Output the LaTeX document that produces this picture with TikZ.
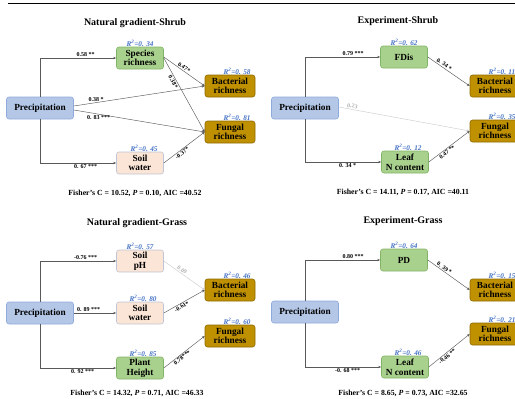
\documentclass[tikz,border=0pt]{standalone}
\usepackage{fontspec}
\setmainfont{Liberation Serif}
\usetikzlibrary{arrows.meta}
\definecolor{precfill}{HTML}{B4C7E7}
\definecolor{precline}{HTML}{8FAADC}
\definecolor{grnfill}{HTML}{A9D18E}
\definecolor{grnline}{HTML}{82B366}
\definecolor{pchfill}{HTML}{FBE5D6}
\definecolor{pchline}{HTML}{BFC4D6}
\definecolor{gldfill}{HTML}{BF9000}
\definecolor{gldline}{HTML}{8F6B00}
\definecolor{rblue}{HTML}{4472C4}
\definecolor{lgray}{HTML}{595959}
\tikzset{
  box/.style={draw, rounded corners=2.5pt, minimum width=47pt, minimum height=22pt,
    align=center, inner sep=0.5pt, line width=0.6pt,
    font=\bfseries\fontsize{9.3}{9.6}\selectfont},
  precbox/.style={box, fill=precfill, draw=precline, minimum width=67pt},
  greenbox/.style={box, fill=grnfill, draw=grnline},
  peachbox/.style={box, fill=pchfill, draw=pchline},
  goldbox/.style={box, fill=gldfill, draw=gldline, minimum width=50pt},
  conn/.style={-{Stealth[length=3pt,width=2.4pt]}, draw=lgray, line width=0.45pt},
  weakconn/.style={conn, draw=gray!40},
  coef/.style={font=\bfseries\fontsize{6}{6}\selectfont, inner sep=1pt},
  weakcoef/.style={coef, text=gray!60},
  rsq/.style={font=\bfseries\itshape\fontsize{7.2}{7.2}\selectfont, text=rblue,
    anchor=south, inner sep=0.5pt},
  ttl/.style={font=\bfseries\fontsize{10}{10}\selectfont},
  fish/.style={font=\bfseries\fontsize{7.8}{7.8}\selectfont}
}
\newcommand{\rtwo}[1]{R\textsuperscript{2}=#1}
\begin{document}
\begin{tikzpicture}[x=1pt,y=-1pt]
\useasboundingbox (0,0) rectangle (515,399);
\clip (0,0) rectangle (515,399);
\draw[line width=0.8pt] (8,3) -- (515,3);

\node[ttl] (t1) at (135,23) {Natural gradient-Shrub};
\node[precbox] (p1prec) at (40,108) {Precipitation};
\node[greenbox] (p1sp) at (140,58) {Species\\richness};
\node[peachbox] (p1sw) at (140,163) {Soil\\water};
\node[goldbox] (p1bac) at (230,86) {Bacterial\\richness};
\node[goldbox] (p1fun) at (230,132) {Fungal\\richness};
\node[rsq] at ([yshift=-1pt]p1sp.north) {\rtwo{0. 34}};
\node[rsq] at ([xshift=7pt,yshift=-1pt]p1bac.north) {\rtwo{0. 58}};
\node[rsq] at ([xshift=7pt,yshift=-1pt]p1fun.north) {\rtwo{0. 81}};
\node[rsq] at ([xshift=4pt,yshift=-1pt]p1sw.north) {\rtwo{0. 45}};
\draw[conn] (p1prec.north) |- (p1sp.west) node[coef,pos=0.8,above] {0.58 **};
\draw[conn] (p1prec.south) |- (p1sw.west) node[coef,pos=0.8,below] {0. 67 ***};
\draw[conn] ([yshift=2pt]p1prec.east) -- (p1bac.west) node[coef,pos=0.17,above] {0.38 *};
\draw[conn] ([yshift=-2pt]p1prec.east) -- (p1fun.west) node[coef,pos=0.19,below] {0. 83 ***};
\draw[conn] ([yshift=1pt]p1sp.east) -- (p1bac.west) node[coef,pos=0.45,above,sloped] {0.47*};
\draw[conn] (p1sp.east) -- (p1fun.west) node[coef,pos=0.3,below,sloped] {0.38*};
\draw[conn] (p1sw.east) -- (p1fun.west) node[coef,pos=0.4,below,sloped] {-0.37*};
\node[fish] (f1) at (135,193) {Fisher’s C = 10.52, \textit{P} = 0.10, AIC =40.52};

\node[ttl] (t2) at (398,21) {Experiment-Shrub};
\node[precbox] (p2prec) at (305,108) {Precipitation};
\node[greenbox] (p2fd) at (404,57) {FDis};
\node[greenbox] (p2leaf) at (405,162) {Leaf\\N content};
\node[goldbox] (p2bac) at (495,86) {Bacterial\\richness};
\node[goldbox] (p2fun) at (495,131) {Fungal\\richness};
\node[rsq] at ([yshift=-1pt]p2fd.north) {\rtwo{0. 62}};
\node[rsq] at ([xshift=7pt,yshift=-1pt]p2bac.north) {\rtwo{0. 11}};
\node[rsq] at ([xshift=7pt,yshift=-1pt]p2fun.north) {\rtwo{0. 35}};
\node[rsq] at ([xshift=3pt,yshift=-1pt]p2leaf.north) {\rtwo{0. 12}};
\draw[conn] (p2prec.north) |- (p2fd.west) node[coef,pos=0.82,above] {0.79 ***};
\draw[conn] (p2prec.south) |- (p2leaf.west) node[coef,pos=0.78,below] {0. 34 *};
\draw[weakconn] ([yshift=1pt]p2prec.east) -- (p2fun.west) node[weakcoef,pos=0.1,above,sloped] {0.23};
\draw[conn] (p2fd.east) -- (p2bac.west) node[coef,pos=0.35,above,sloped] {0. 34 *};
\draw[conn] (p2leaf.east) -- (p2fun.west) node[coef,pos=0.4,below,sloped] {0.47 **};
\node[fish] (f2) at (403,192) {Fisher’s C = 14.11, \textit{P} = 0.17, AIC =40.11};

\node[ttl] (t3) at (137,223) {Natural gradient-Grass};
\node[precbox] (p3prec) at (40,313) {Precipitation};
\node[peachbox] (p3ph) at (140,261) {Soil\\pH};
\node[peachbox] (p3sw) at (140,313) {Soil\\water};
\node[greenbox] (p3pl) at (140,368) {Plant\\Height};
\node[goldbox] (p3bac) at (230,290) {Bacterial\\richness};
\node[goldbox] (p3fun) at (230,336) {Fungal\\richness};
\node[rsq] at ([yshift=-1pt]p3ph.north) {\rtwo{0. 57}};
\node[rsq] at ([xshift=3pt,yshift=-1pt]p3sw.north) {\rtwo{0. 80}};
\node[rsq] at ([xshift=3pt,yshift=-1pt]p3pl.north) {\rtwo{0. 85}};
\node[rsq] at ([xshift=7pt,yshift=-1pt]p3bac.north) {\rtwo{0. 46}};
\node[rsq] at ([xshift=7pt,yshift=-1pt]p3fun.north) {\rtwo{0. 60}};
\draw[conn] (p3prec.north) |- (p3ph.west) node[coef,pos=0.8,above] {-0.76 ***};
\draw[conn] (p3prec.east) -- (p3sw.west) node[coef,pos=0.35,above] {0. 89 ***};
\draw[conn] (p3prec.south) |- (p3pl.west) node[coef,pos=0.78,below] {0. 92 ***};
\draw[weakconn] (p3ph.east) -- (p3bac.west) node[weakcoef,pos=0.4,above,sloped] {0.09};
\draw[conn] (p3sw.east) -- (p3bac.west) node[coef,pos=0.4,below,sloped] {-0.61*};
\draw[conn] (p3pl.east) -- (p3fun.west) node[coef,pos=0.4,below,sloped] {0.78***};
\node[fish] (f3) at (137,393) {Fisher’s C = 14.32, \textit{P} = 0.71, AIC =46.33};

\node[ttl] (t4) at (403,221) {Experiment-Grass};
\node[precbox] (p4prec) at (305,312) {Precipitation};
\node[greenbox] (p4pd) at (404,260) {PD};
\node[greenbox] (p4leaf) at (405,367) {Leaf\\N content};
\node[goldbox] (p4bac) at (495,290) {Bacterial\\richness};
\node[goldbox] (p4fun) at (495,334) {Fungal\\richness};
\node[rsq] at ([yshift=-1pt]p4pd.north) {\rtwo{0. 64}};
\node[rsq] at ([xshift=3pt,yshift=-1pt]p4leaf.north) {\rtwo{0. 46}};
\node[rsq] at ([xshift=7pt,yshift=-1pt]p4bac.north) {\rtwo{0. 15}};
\node[rsq] at ([xshift=7pt,yshift=-1pt]p4fun.north) {\rtwo{0. 21}};
\draw[conn] (p4prec.north) |- (p4pd.west) node[coef,pos=0.82,above] {0.80 ***};
\draw[conn] (p4prec.south) |- (p4leaf.west) node[coef,pos=0.78,below] {-0. 68 ***};
\draw[conn] (p4pd.east) -- (p4bac.west) node[coef,pos=0.35,above,sloped] {0. 39 *};
\draw[conn] (p4leaf.east) -- (p4fun.west) node[coef,pos=0.4,below,sloped] {-0.46 **};
\node[fish] (f4) at (403,393) {Fisher’s C = 8.65, \textit{P} = 0.73, AIC =32.65};
\end{tikzpicture}
\end{document}
